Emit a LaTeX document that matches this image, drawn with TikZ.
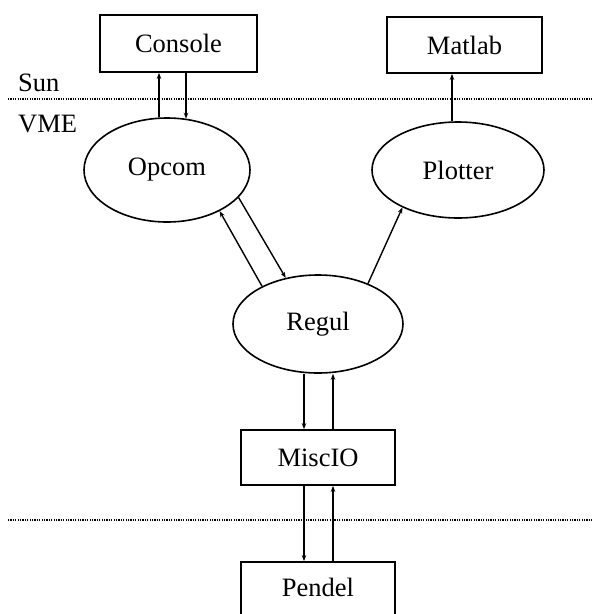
\documentclass[tikz,border=0pt]{standalone}
\usepackage{fontspec}
\setmainfont{Liberation Serif}
\usetikzlibrary{shapes.geometric,arrows.meta}
\begin{document}
\begin{tikzpicture}[x=1pt,y=-1pt,
  every node/.style={font=\fontsize{26.5}{29}\selectfont},
  boxnode/.style={draw,line width=1.8pt,rectangle,inner sep=0pt},
  procnode/.style={draw,line width=1.6pt,ellipse,inner sep=0pt},
  link/.style={line width=1.4pt,-{Stealth[length=6pt,width=4.5pt]}},
  sepline/.style={line width=1.8pt,dash pattern=on 1.2pt off 1.2pt}]
\useasboundingbox (0,0) rectangle (592,614);
\node[boxnode,minimum width=157pt,minimum height=57pt] (console) at (178.5,43.5) {Console};
\node[boxnode,minimum width=155pt,minimum height=56pt] (matlab) at (464.5,45) {Matlab};
\node[procnode,minimum width=166pt,minimum height=104pt] (opcom) at (167,170) {Opcom};
\node[procnode,minimum width=172pt,minimum height=96pt] (plotter) at (458,170) {Plotter};
\node[procnode,minimum width=170pt,minimum height=98pt] (regul) at (318,324) {Regul};
\node[boxnode,minimum width=154pt,minimum height=55pt] (miscio) at (318,457.5) {MiscIO};
\node[boxnode,minimum width=154pt,minimum height=80pt] (pendel) at (318,602) {};
\node at (318,587) {Pendel};
\node[anchor=base west,inner sep=0pt] (sun) at (18,91) {Sun};
\node[anchor=base west,inner sep=0pt] (vme) at (18,132) {VME};
\coordinate (l1a) at (8,99);
\coordinate (l1b) at (592,99);
\coordinate (l2a) at (8,520);
\coordinate (l2b) at (592,520);
\draw[sepline] (l1a) -- (l1b);
\draw[sepline] (l2a) -- (l2b);
% Console <-> Opcom
\coordinate (xa) at (159,0);
\coordinate (xb) at (186,0);
\draw[link] (opcom.north -| xa) -- (console.south -| xa);
\draw[link] (console.south -| xb) -- ([yshift=-1.5pt]opcom.north -| xb);
% Plotter -> Matlab
\coordinate (xc) at (452,0);
\draw[link] (plotter.north -| xc) -- (matlab.south -| xc);
% Opcom <-> Regul
\draw[link] (regul.146.8) -- (opcom.-38.8);
\draw[link] (opcom.-21.8) -- (regul.125.9);
% Regul -> Plotter
\draw[link] (regul.39.4) -- (plotter.214);
% Regul <-> MiscIO
\coordinate (xd) at (304,0);
\coordinate (xe) at (333,0);
\draw[link] (regul.south -| xd) -- (miscio.north -| xd);
\draw[link] (miscio.north -| xe) -- (regul.south -| xe);
% MiscIO <-> Pendel
\draw[link] (miscio.south -| xd) -- (pendel.north -| xd);
\draw[link] (pendel.north -| xe) -- (miscio.south -| xe);
\end{tikzpicture}
\end{document}
